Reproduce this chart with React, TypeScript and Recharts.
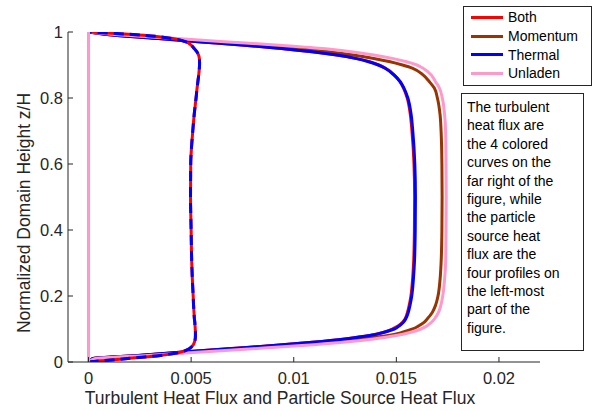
import React from 'react';
import { LineChart, Line, XAxis, YAxis } from 'recharts';

const FONT = '"Liberation Sans", Arial, Helvetica, sans-serif';
const AXIS = '#262626';

// normalized height z/H shared by all profiles
const zLevels = [
  0, 0.01, 0.02, 0.03, 0.04, 0.05, 0.06, 0.07, 0.08, 0.09, 0.1, 0.11, 0.12, 0.13, 0.15, 0.17, 0.2,
  0.25, 0.3, 0.4, 0.5, 0.6, 0.7, 0.75, 0.8, 0.83, 0.85, 0.87, 0.89, 0.9, 0.91, 0.92, 0.93, 0.94,
  0.95, 0.96, 0.97, 0.98, 0.99, 1,
];

// turbulent heat flux (right-hand curves)
const bothTurb = [
  0, 0.0002, 0.0024, 0.0046, 0.0068, 0.009, 0.0109, 0.0125, 0.0137, 0.0144, 0.0148, 0.0151, 0.0153,
  0.01542, 0.01554, 0.01562, 0.01571, 0.01579, 0.01584, 0.01588, 0.01589, 0.01586, 0.01576, 0.01568,
  0.01553, 0.01535, 0.01517, 0.01489, 0.01448, 0.01415, 0.0137, 0.01302, 0.0121, 0.0109, 0.0094,
  0.0076, 0.0055, 0.0034, 0.0013, 0,
];
const momentumTurb = [
  0, 0.0002, 0.0025, 0.0048, 0.0071, 0.0093, 0.0115, 0.0133, 0.0146, 0.0153, 0.0158, 0.0161, 0.01635,
  0.0165, 0.01675, 0.0169, 0.01703, 0.01713, 0.01718, 0.01722, 0.01723, 0.01722, 0.01718, 0.01713,
  0.017, 0.01685, 0.0166, 0.0163, 0.0158, 0.0153, 0.0147, 0.0139, 0.0129, 0.0117, 0.0102, 0.0084,
  0.0061, 0.0039, 0.0016, 0,
];
const thermalTurb = [
  0, 0.0002, 0.0024, 0.0046, 0.0068, 0.009, 0.0109, 0.0125, 0.0137, 0.0144, 0.0149, 0.01515, 0.01533,
  0.01545, 0.01558, 0.01566, 0.01575, 0.01583, 0.01588, 0.01592, 0.01593, 0.0159, 0.0158, 0.01572,
  0.01556, 0.01537, 0.01518, 0.01488, 0.01445, 0.01412, 0.01365, 0.013, 0.0121, 0.0109, 0.0094,
  0.0076, 0.0055, 0.0034, 0.0013, 0,
];
const unladenTurb = [
  0, 0.0003, 0.0029, 0.0055, 0.008, 0.0104, 0.0124, 0.0139, 0.015, 0.0157, 0.0162, 0.0165, 0.0167,
  0.01685, 0.01705, 0.01716, 0.01726, 0.01735, 0.0174, 0.01742, 0.01743, 0.01742, 0.0174, 0.01735,
  0.01724, 0.0171, 0.0169, 0.0167, 0.0163, 0.016, 0.0155, 0.0148, 0.0139, 0.0128, 0.0114, 0.0093,
  0.0068, 0.0043, 0.0018, 0,
];

// particle source heat flux (left-hand curves)
const bothSource = [
  0, 0.0018, 0.0035, 0.0045, 0.0049, 0.00508, 0.00516, 0.0052, 0.00521, 0.00521, 0.0052, 0.00519,
  0.00518, 0.00516, 0.00514, 0.00512, 0.0051, 0.00506, 0.00503, 0.005, 0.00497, 0.00498, 0.00508,
  0.00515, 0.00524, 0.00529, 0.00533, 0.00537, 0.0054, 0.00541, 0.00541, 0.0054, 0.00536, 0.00528,
  0.00515, 0.005, 0.00475, 0.0041, 0.0027, 0,
];
const thermalSource = [
  0, 0.0018, 0.0035, 0.0045, 0.0049, 0.00508, 0.00516, 0.0052, 0.00521, 0.00521, 0.0052, 0.00519,
  0.00518, 0.00516, 0.00514, 0.00512, 0.0051, 0.00506, 0.00503, 0.005, 0.00497, 0.00498, 0.00508,
  0.00515, 0.00524, 0.00529, 0.00533, 0.00537, 0.0054, 0.00541, 0.00541, 0.0054, 0.00536, 0.00528,
  0.00515, 0.005, 0.00475, 0.0041, 0.0027, 0,
];
const zeroSourceZ = [0, 1];
const momentumSource = [0, 0];
const unladenSource = [0, 0];

const xTicks = [0, 0.005, 0.01, 0.015, 0.02];
const yTicks = [0, 0.2, 0.4, 0.6, 0.8, 1];

const seriesNames = ['Both', 'Momentum', 'Thermal', 'Unladen'];
const seriesColors = ['#FF0000', '#993300', '#0000FF', '#FF99CC'];

const xLabel = 'Turbulent Heat Flux and Particle Source Heat Flux';
const yLabel = 'Normalized Domain Height z/H';
const noteLines = [
  'The turbulent', 'heat flux are', 'the 4 colored', 'curves on the', 'far right of the',
  'figure, while', 'the particle', 'source heat', 'flux are the', 'four profiles on',
  'the left-most', 'part of the', 'figure.',
];

const profileData = zLevels.map((z, i) => ({
  z,
  both: bothTurb[i],
  momentum: momentumTurb[i],
  thermal: thermalTurb[i],
  unladen: unladenTurb[i],
  bothSrc: bothSource[i],
  thermalSrc: thermalSource[i],
}));
const momentumSrcData = zeroSourceZ.map((z, i) => ({ z, flux: momentumSource[i] }));
const unladenSrcData = zeroSourceZ.map((z, i) => ({ z, flux: unladenSource[i] }));

const W = 593;
const H = 411;
const SW = 3;

export default function App() {
  return (
    <div style={{ position: 'absolute', left: 0, top: 0, width: W, height: H, background: '#fff', fontFamily: FONT }}>
      <LineChart
        width={W}
        height={H}
        data={profileData}
        layout="vertical"
        margin={{ top: 32, right: 53, bottom: 19, left: 8 }}
      >
        <XAxis
          type="number"
          domain={[-0.001, 0.022]}
          ticks={xTicks}
          allowDataOverflow
          height={30}
          stroke={AXIS}
          tickSize={-5}
          tickMargin={15}
          tick={{ fill: AXIS, fontSize: 16.5, fontFamily: FONT }}
          label={{
            value: xLabel,
            content: () => (
              <text x={280} y={404} textAnchor="middle" fill={AXIS} fontSize={17.5} fontFamily={FONT}>
                {xLabel}
              </text>
            ),
          }}
        />
        <YAxis
          type="number"
          dataKey="z"
          domain={[0, 1]}
          ticks={yTicks}
          reversed
          allowDataOverflow
          width={60}
          stroke={AXIS}
          tickSize={-5}
          tickMargin={10}
          tick={{ fill: AXIS, fontSize: 16.5, fontFamily: FONT }}
          label={{
            value: yLabel,
            content: () => (
              <text
                x={29.5}
                y={213}
                transform="rotate(-90 29.5 213)"
                textAnchor="middle"
                fill={AXIS}
                fontSize={17.5}
                fontFamily={FONT}
              >
                {yLabel}
              </text>
            ),
          }}
        />
        <Line dataKey="both" type="monotone" stroke={seriesColors[0]} strokeWidth={SW} dot={false} isAnimationActive={false} />
        <Line dataKey="momentum" type="monotone" stroke={seriesColors[1]} strokeWidth={SW} dot={false} isAnimationActive={false} />
        <Line dataKey="thermal" type="monotone" stroke={seriesColors[2]} strokeWidth={SW} dot={false} isAnimationActive={false} />
        <Line dataKey="unladen" type="monotone" stroke={seriesColors[3]} strokeWidth={SW} dot={false} isAnimationActive={false} />
        <Line dataKey="bothSrc" type="monotone" stroke={seriesColors[0]} strokeWidth={SW} dot={false} isAnimationActive={false} />
        <Line data={momentumSrcData} dataKey="flux" type="linear" stroke={seriesColors[1]} strokeWidth={SW} dot={false} isAnimationActive={false} />
        <Line
          dataKey="thermalSrc"
          type="monotone"
          stroke={seriesColors[2]}
          strokeWidth={SW}
          strokeDasharray="10 6"
          dot={false}
          isAnimationActive={false}
        />
        <Line data={unladenSrcData} dataKey="flux" type="linear" stroke={seriesColors[3]} strokeWidth={SW} dot={false} isAnimationActive={false} />
      </LineChart>

      {/* legend */}
      <div
        style={{
          position: 'absolute', left: 463, top: 6, width: 129, height: 80, boxSizing: 'border-box',
          border: `1px solid ${AXIS}`, background: '#fff', paddingTop: 1,
        }}
      >
        {seriesNames.map((name, i) => (
          <div key={name} style={{ display: 'flex', alignItems: 'center', height: 18.7, fontSize: 14, color: '#000' }}>
            <span style={{ display: 'inline-block', marginLeft: 7, width: 32, height: 3, background: seriesColors[i] }} />
            <span style={{ marginLeft: 5 }}>{name}</span>
          </div>
        ))}
      </div>

      {/* note box */}
      <div
        style={{
          position: 'absolute', left: 461, top: 93, width: 123, height: 258, boxSizing: 'border-box',
          border: `1px solid ${AXIS}`, background: '#fff', padding: '4px 0 0 5px', fontSize: 14,
          lineHeight: '18.4px', color: '#000',
        }}
      >
        {noteLines.map((t) => (
          <div key={t} style={{ whiteSpace: 'nowrap' }}>{t}</div>
        ))}
      </div>
    </div>
  );
}
